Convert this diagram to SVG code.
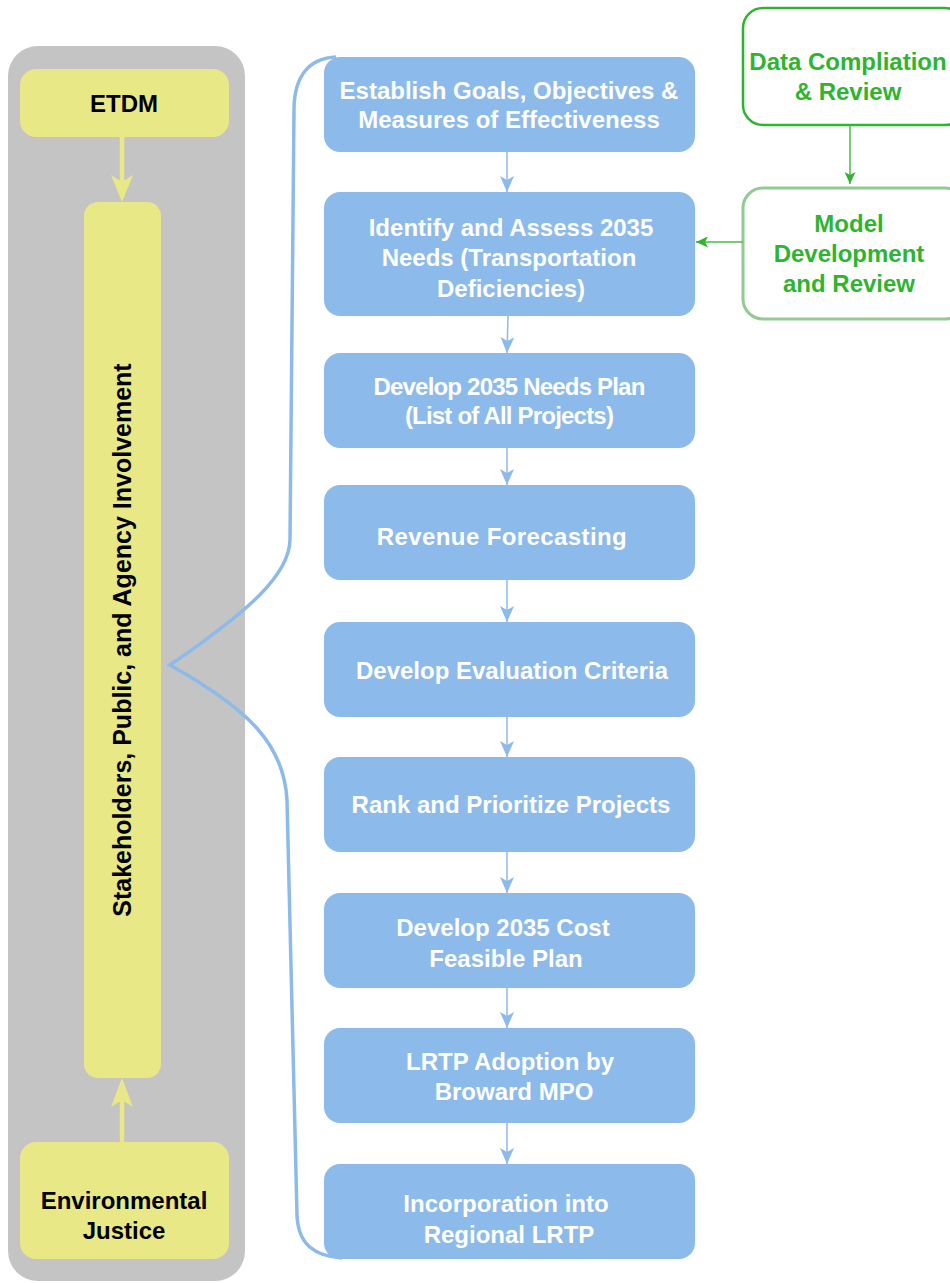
<svg xmlns="http://www.w3.org/2000/svg" width="950" height="1283" viewBox="0 0 950 1283">
<style>
.blue{fill:#8CBAEA}
.yel{fill:#E9E887}
.bt{font-family:"Liberation Sans",Arial,sans-serif;font-weight:bold;font-size:24px;fill:#FFFFFF;text-anchor:middle}
.kt{font-family:"Liberation Sans",Arial,sans-serif;font-weight:bold;font-size:24px;fill:#000000;text-anchor:middle}
.gt{font-family:"Liberation Sans",Arial,sans-serif;font-weight:bold;font-size:24px;fill:#2DB52D;text-anchor:middle}
.bl{stroke:#8CBAEA;stroke-width:1.5;fill:none}
.gl{stroke:#4DB84D;stroke-width:1.5;fill:none}
</style>
<defs>
<marker id="ab" markerWidth="16" markerHeight="14" refX="16" refY="7" orient="auto" markerUnits="userSpaceOnUse" viewBox="0 0 16 14">
<path d="M0,0 L16,7 L0,14 L4,7 Z" fill="#8CBAEA"/>
</marker>
<marker id="ag" markerWidth="12" markerHeight="11" refX="12" refY="5.5" orient="auto" markerUnits="userSpaceOnUse" viewBox="0 0 12 11">
<path d="M0,0 L12,5.5 L0,11 L3,5.5 Z" fill="#2DB52D"/>
</marker>
</defs>

<g id="container">
<rect x="8" y="46" width="237" height="1235" rx="30" ry="30" fill="#C4C4C4"/>
</g>

<g id="etdm">
<rect class="yel" x="20" y="69" width="209" height="68" rx="16"/>
<text class="kt" x="124" y="112">ETDM</text>
</g>

<g id="stakeholders">
<rect class="yel" x="84" y="202" width="77" height="876" rx="14"/>
<text class="kt" transform="translate(131,640) rotate(-90)" style="font-size:25px">Stakeholders, Public, and Agency Involvement</text>
</g>

<g id="env-justice">
<rect class="yel" x="20" y="1142" width="209" height="117" rx="16"/>
<text class="kt" x="124" y="1209">Environmental</text>
<text class="kt" x="124" y="1239">Justice</text>
</g>

<g id="step1">
<rect class="blue" x="324" y="57" width="371" height="95" rx="16"/>
<text class="bt" x="509" y="99">Establish Goals, Objectives &amp;</text>
<text class="bt" x="509" y="128">Measures of Effectiveness</text>
</g>
<g id="step2">
<rect class="blue" x="324" y="192" width="371" height="124" rx="16"/>
<text class="bt" x="511" y="236">Identify and Assess 2035</text>
<text class="bt" x="509" y="266">Needs (Transportation</text>
<text class="bt" x="511" y="297">Deficiencies)</text>
</g>
<g id="step3">
<rect class="blue" x="324" y="353" width="371" height="95" rx="16"/>
<text class="bt" x="509" y="395" letter-spacing="-0.8">Develop 2035 Needs Plan</text>
<text class="bt" x="509" y="424" letter-spacing="-0.8">(List of All Projects)</text>
</g>
<g id="step4">
<rect class="blue" x="324" y="485" width="371" height="95" rx="16"/>
<text class="bt" x="502" y="545" letter-spacing="0.4">Revenue Forecasting</text>
</g>
<g id="step5">
<rect class="blue" x="324" y="622" width="371" height="95" rx="16"/>
<text class="bt" x="512" y="679">Develop Evaluation Criteria</text>
</g>
<g id="step6">
<rect class="blue" x="324" y="757" width="371" height="95" rx="16"/>
<text class="bt" x="511" y="813">Rank and Prioritize Projects</text>
</g>
<g id="step7">
<rect class="blue" x="324" y="893" width="371" height="95" rx="16"/>
<text class="bt" x="503" y="936">Develop 2035 Cost</text>
<text class="bt" x="506" y="967">Feasible Plan</text>
</g>
<g id="step8">
<rect class="blue" x="324" y="1028" width="371" height="95" rx="16"/>
<text class="bt" x="510" y="1070">LRTP Adoption by</text>
<text class="bt" x="514" y="1100">Broward MPO</text>
</g>
<g id="step9">
<rect class="blue" x="324" y="1164" width="371" height="95" rx="16"/>
<text class="bt" x="506" y="1212">Incorporation into</text>
<text class="bt" x="509" y="1243">Regional LRTP</text>
</g>

<g id="data-compliation">
<rect x="743" y="8" width="222" height="117" rx="20" fill="#FFFFFF" stroke="#2DB52D" stroke-width="2.5"/>
<text class="gt" x="848" y="70">Data Compliation</text>
<text class="gt" x="848" y="100">&amp; Review</text>
</g>
<g id="model-dev">
<rect x="743" y="188" width="222" height="131" rx="20" fill="#FFFFFF" stroke="#92CA92" stroke-width="3"/>
<text class="gt" x="849" y="232">Model</text>
<text class="gt" x="849" y="262">Development</text>
<text class="gt" x="849" y="292">and Review</text>
</g>

<g id="connectors">
<path d="M122,137 L122,184" stroke="#E9E887" stroke-width="4.5" fill="none"/>
<path d="M122,202 L111,175 L122,182 L133,175 Z" fill="#E9E887"/>
<path d="M122,1142 L122,1096" stroke="#E9E887" stroke-width="4.5" fill="none"/>
<path d="M122,1078 L111,1107 L122,1100 L133,1107 Z" fill="#E9E887"/>

<path d="M336,57 C310,58 294,75 294,110 L290,540 C289,575 250,610 170,665 C250,710 284,745 287,800 L297,1215 C298,1245 315,1256 342,1258" stroke="#8CBAEA" stroke-width="3.5" fill="none"/>

<line class="bl" x1="507" y1="152" x2="507" y2="192" marker-end="url(#ab)"/>
<line class="bl" x1="508" y1="316" x2="507" y2="353" marker-end="url(#ab)"/>
<line class="bl" x1="507" y1="448" x2="507" y2="485" marker-end="url(#ab)"/>
<line class="bl" x1="507" y1="580" x2="507" y2="622" marker-end="url(#ab)"/>
<line class="bl" x1="507" y1="717" x2="507" y2="757" marker-end="url(#ab)"/>
<line class="bl" x1="507" y1="852" x2="507" y2="893" marker-end="url(#ab)"/>
<line class="bl" x1="507" y1="988" x2="507" y2="1028" marker-end="url(#ab)"/>
<line class="bl" x1="507" y1="1123" x2="507" y2="1164" marker-end="url(#ab)"/>

<line class="gl" x1="850" y1="125" x2="850" y2="184" marker-end="url(#ag)"/>
<line class="gl" x1="743" y1="242" x2="696" y2="242" marker-end="url(#ag)"/>
</g>
</svg>
